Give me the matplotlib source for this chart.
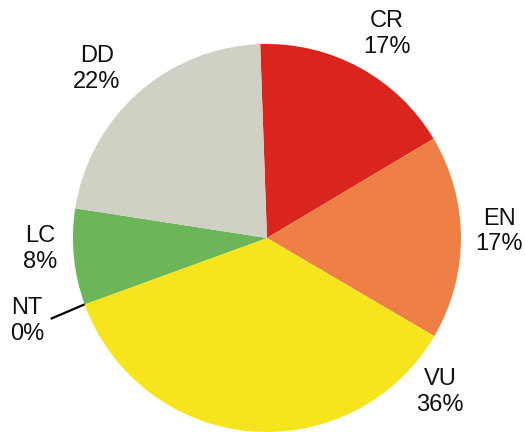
import numpy as np
import matplotlib
matplotlib.use("Agg")
import matplotlib.pyplot as plt

# IUCN Red List category shares (%)
categories = ["CR", "EN", "VU", "NT", "LC", "DD"]
shares = [17, 17, 36, 0, 8, 22]
colors = ["#D9251D", "#EE8045", "#F6E51C", "#F6E51C", "#6DB559", "#D1D0C5"]

# label anchor points in pie (radius = 1) coordinates
label_pos = {
    "CR": (0.619, 1.052),
    "EN": (1.196, 0.034),
    "VU": (0.892, -0.794),
    "NT": (-1.237, -0.428),
    "LC": (-1.170, -0.057),
    "DD": (-0.876, 0.871),
}

plt.rcParams["font.family"] = ["Liberation Sans", "DejaVu Sans"]

fig = plt.figure(figsize=(5.25, 4.32), dpi=100)
ax = fig.add_axes([0, 0, 1, 1])

start = 92
wedges, _ = ax.pie(shares, colors=colors, startangle=start, counterclock=False,
                   radius=1.0, wedgeprops=dict(linewidth=0))

ax.set_xlim(-1.376, 1.330)
ax.set_ylim(-1.0, 1.2268)
ax.set_aspect("equal")
ax.axis("off")

for cat, val in zip(categories, shares):
    x, y = label_pos[cat]
    ax.text(x, y, f"{cat}\n{val}%", ha="center", va="center",
            multialignment="center", fontsize=17, linespacing=1.2,
            color="#111111")

# leader line for the near-zero NT wedge
nt = wedges[categories.index("NT")]
ang = np.deg2rad(nt.theta1)
ax.plot([np.cos(ang), 1.19 * np.cos(ang + np.deg2rad(0.5))],
        [np.sin(ang), 1.19 * np.sin(ang + np.deg2rad(0.5))],
        color="black", lw=1.6, solid_capstyle="butt")

fig.savefig("out.png", dpi=100)
